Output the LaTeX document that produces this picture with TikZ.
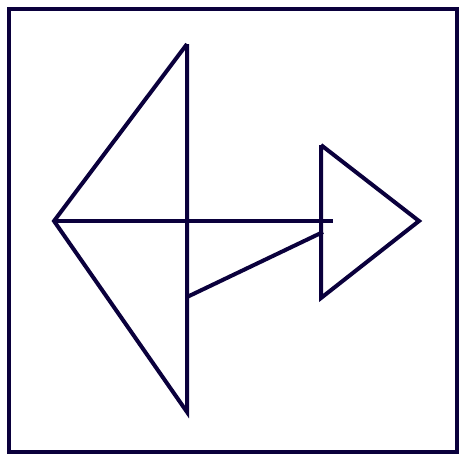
\documentclass[tikz,border=0pt]{standalone}
\definecolor{ink}{RGB}{10,0,60}
\tikzset{stroke/.style={draw=ink,line width=3pt,line join=miter}}
\begin{document}
\begin{tikzpicture}[x=0.75pt,y=-0.75pt]
	\useasboundingbox (0,0) rectangle (466,462);
	\coordinate (TL) at(9,9);
	\coordinate (BR) at(457,452);
	\coordinate (L) at(54,221);
	\coordinate (LT) at(187,44);
	\coordinate (LB) at(187,412);
	\coordinate (LM) at(187,297);
	\coordinate (RT) at(321,145);
	\coordinate (RB) at(321,298);
	\coordinate (R) at(419,221);
	\coordinate (H) at(333,221);
	\coordinate (RM) at(323,232);
	
	\draw[stroke] (TL) rectangle (BR);
	\draw[stroke] (LT)--(L)--(LB)--(LT);
	\draw[stroke] (RT)--(R)--(RB)--(RT);
	\draw[stroke] (L)--(H);
	\draw[stroke] (LM)--(RM);
\end{tikzpicture}
\end{document}
